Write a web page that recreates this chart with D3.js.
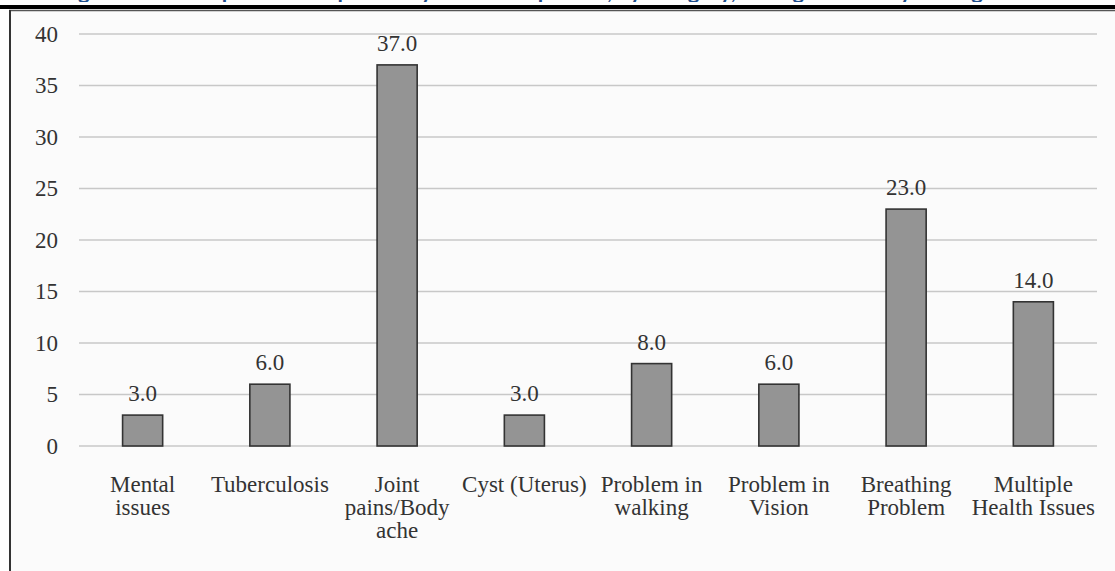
<!DOCTYPE html>
<html>
<head>
<meta charset="utf-8">
<script src="https://cdn.jsdelivr.net/npm/d3@7"></script>
<style>
  html, body { margin: 0; padding: 0; background: #fff; }
  svg { display: block; }
</style>
</head>
<body>
<div id="chart"></div>
<script>
/* global d3 */
const categories = ['Mental issues', 'Tuberculosis', 'Joint pains/Body ache', 'Cyst (Uterus)',
  'Problem in walking', 'Problem in Vision', 'Breathing Problem', 'Multiple Health Issues'];
const labelLines = [['Mental', 'issues'], ['Tuberculosis'], ['Joint', 'pains/Body', 'ache'], ['Cyst (Uterus)'],
  ['Problem in', 'walking'], ['Problem in', 'Vision'], ['Breathing', 'Problem'], ['Multiple', 'Health Issues']];
const values = [3, 6, 37, 3, 8, 6, 23, 14];
const yTicks = [0, 5, 10, 15, 20, 25, 30, 35, 40];

const W = 1115, H = 571;
const margin = { top: 34, right: 18, bottom: 125, left: 79 };
const iw = W - margin.left - margin.right, ih = H - margin.top - margin.bottom;
const font = '"Liberation Serif", "Times New Roman", serif';

const svg = d3.select('#chart').append('svg').attr('width', W).attr('height', H);

// page frame: heading cropped off the top, thick rule, panel
svg.append('text').attr('x', 60).attr('y', -1).attr('fill', '#1f4e8c').attr('font-size', 22).attr('font-weight', 700)
  .attr('font-family', 'Lato, "Open Sans", sans-serif')
  .text('Figure 7: Health problems reported by the waste pickers, by category, during the survey among the community in Kolkata, surveyed by young (');
svg.append('rect').attr('x', 0).attr('y', 2).attr('width', W).attr('height', 7).attr('fill', '#fff');
svg.append('rect').attr('x', 0).attr('y', 5).attr('width', W).attr('height', 4).attr('fill', '#000');
svg.append('rect').attr('x', 10).attr('y', 10).attr('width', W - 10).attr('height', H - 10).attr('fill', '#fbfbfb');
svg.append('line').attr('x1', 9).attr('x2', W).attr('y1', 10.5).attr('y2', 10.5).attr('stroke', '#555').attr('stroke-width', 1.5);
svg.append('line').attr('x1', 10).attr('x2', 10).attr('y1', 10).attr('y2', H).attr('stroke', '#333').attr('stroke-width', 2);

const g = svg.append('g').attr('transform', `translate(${margin.left},${margin.top})`);

const x = d3.scaleBand().domain(categories).range([0, iw]).paddingInner(0.685).paddingOuter(0.3425);
const y = d3.scaleLinear().domain([0, 40]).range([ih, 0]);

// gridlines
g.selectAll('.grid').data(yTicks).join('line').attr('class', 'grid')
  .attr('x1', 0).attr('x2', iw).attr('y1', d => y(d)).attr('y2', d => y(d))
  .attr('stroke', '#c8c8c8').attr('stroke-width', 1.5);

// y axis labels
const yAxis = g.append('g').call(d3.axisLeft(y).tickValues(yTicks).tickSize(0).tickPadding(21));
yAxis.select('.domain').remove();
yAxis.selectAll('.tick text').attr('fill', '#333').attr('font-size', 23).attr('font-family', font);

// bars
g.selectAll('.bar').data(values).join('rect').attr('class', 'bar')
  .attr('x', (d, i) => x(categories[i])).attr('y', d => y(d))
  .attr('width', x.bandwidth()).attr('height', d => ih - y(d))
  .attr('fill', '#949494').attr('stroke', '#333').attr('stroke-width', 1.6);

// value labels
g.selectAll('.val').data(values).join('text').attr('class', 'val')
  .attr('x', (d, i) => x(categories[i]) + x.bandwidth() / 2).attr('y', d => y(d) - 14)
  .attr('text-anchor', 'middle').attr('fill', '#333').attr('font-size', 23).attr('font-family', font)
  .text(d => d.toFixed(1));

// category labels
const cat = g.selectAll('.cat').data(categories).join('text').attr('class', 'cat')
  .attr('x', d => x(d) + x.bandwidth() / 2).attr('y', ih + 46)
  .attr('text-anchor', 'middle').attr('fill', '#333').attr('font-size', 23).attr('font-family', font);
cat.each(function (d, i) {
  d3.select(this).selectAll('tspan').data(labelLines[i]).join('tspan')
    .attr('x', x(d) + x.bandwidth() / 2).attr('dy', (t, j) => j === 0 ? 0 : 23).text(t => t);
});
</script>
</body>
</html>
